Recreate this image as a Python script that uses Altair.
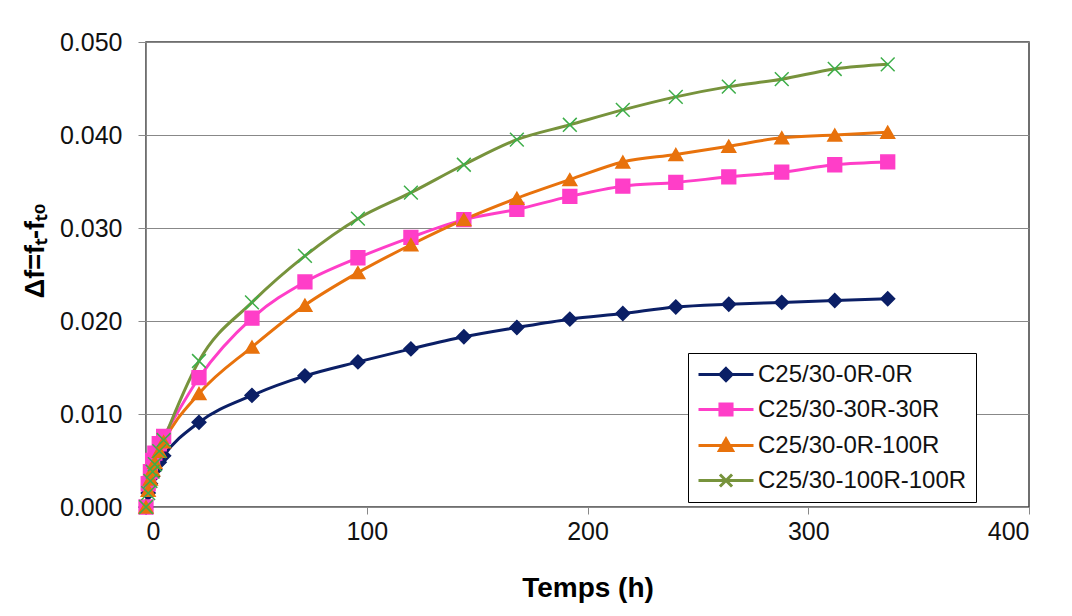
import altair as alt
import pandas as pd

# ---- data ----
times = [0, 1, 2, 3, 4, 6, 8, 24, 48, 72, 96, 120, 144, 168, 192, 216, 240, 264, 288, 312, 336]

series_names = ["C25/30-0R-0R", "C25/30-30R-30R", "C25/30-0R-100R", "C25/30-100R-100R"]

s_0r_0r = [0, 0.0015, 0.0025, 0.0033, 0.0040, 0.0048, 0.0055, 0.0091, 0.0120, 0.0141, 0.0156,
           0.0170, 0.0183, 0.0193, 0.0202, 0.0208, 0.0215, 0.0218, 0.0220, 0.0222, 0.0224]
s_30r_30r = [0, 0.0025, 0.0038, 0.0050, 0.0058, 0.0068, 0.0076, 0.0139, 0.0203, 0.0242, 0.0268,
             0.0290, 0.0309, 0.0320, 0.0334, 0.0345, 0.0349, 0.0355, 0.0360, 0.0368, 0.0371]
s_0r_100r = [0, 0.0018, 0.0030, 0.0040, 0.0048, 0.0060, 0.0070, 0.0122, 0.0172, 0.0217, 0.0252,
             0.0282, 0.0309, 0.0332, 0.0352, 0.0371, 0.0379, 0.0388, 0.0397, 0.0400, 0.0403]
s_100r_100r = [0, 0.0015, 0.0028, 0.0038, 0.0046, 0.0060, 0.0072, 0.0157, 0.0220, 0.0270, 0.0310,
               0.0338, 0.0368, 0.0395, 0.0411, 0.0427, 0.0441, 0.0452, 0.0460, 0.0471, 0.0476]

x_ticks = [0, 100, 200, 300, 400]
y_ticks = [0.0, 0.01, 0.02, 0.03, 0.04, 0.05]

line_colors = ["#0B1F66", "#FF3EC8", "#E8720C", "#77933C"]
marker_colors = ["#0B1F66", "#FF3EC8", "#E8720C", "#3DAE49"]
marker_shapes = ["diamond", "square", "triangle-up", "M-1,-1L1,1M-1,1L1,-1"]
legend_shapes = [
    "M-1,0H4M1.5,-0.55L2.05,0L1.5,0.55L0.95,0Z",
    "M-1,0H4M0.95,-0.5H2.05V0.5H0.95Z",
    "M-1,0H4M1.5,-0.6L2.1,0.45H0.9Z",
    "M-1,0H4M0.95,-0.55L2.05,0.55M0.95,0.55L2.05,-0.55",
]

rows = []
for name, vals in zip(series_names, [s_0r_0r, s_30r_30r, s_0r_100r, s_100r_100r]):
    for t, v in zip(times, vals):
        rows.append({"t": t, "v": v, "s": name})
df = pd.DataFrame(rows)

FONT = "Liberation Sans"

x_enc = alt.X(
    "t:Q",
    scale=alt.Scale(domain=[0, 400], nice=False),
    axis=alt.Axis(
        values=x_ticks, title="Temps (h)", grid=False, format="d",
        labelFontSize=25, labelFont=FONT, labelColor="#111111", labelPadding=5,
        tickSize=7, tickColor="#888888", domainColor="#888888",
        titleFontSize=28, titleFont=FONT, titleFontWeight="bold", titleColor="#000000",
        titlePadding=30,
    ),
)
y_enc = alt.Y(
    "v:Q",
    scale=alt.Scale(domain=[0, 0.05], nice=False),
    axis=alt.Axis(
        values=y_ticks, format=".3f", title="Δf=fₜ-fₜ₀",
        labelFontSize=25, labelFont=FONT, labelColor="#111111", labelPadding=16,
        tickSize=8, tickColor="#888888", domainColor="#888888",
        gridColor="#888888", gridWidth=1.2,
        titleFontSize=27, titleFont=FONT, titleFontWeight="bold", titleColor="#000000",
        titlePadding=10, titleY=208, titleAlign="center",
    ),
)

base = alt.Chart(df)

lines = base.mark_line(strokeWidth=3, interpolate="monotone").encode(
    x=x_enc,
    y=y_enc,
    color=alt.Color("s:N", scale=alt.Scale(domain=series_names, range=line_colors), legend=None),
)

points = base.mark_point(size=190, strokeWidth=1.5, opacity=1).encode(
    x=x_enc,
    y=y_enc,
    fill=alt.Fill("s:N", scale=alt.Scale(domain=series_names, range=marker_colors), legend=None),
    stroke=alt.Stroke("s:N", scale=alt.Scale(domain=series_names, range=marker_colors), legend=None),
    shape=alt.Shape("s:N", scale=alt.Scale(domain=series_names, range=marker_shapes), legend=None),
)

legend_layer = base.transform_filter("false").mark_point().encode(
    x=x_enc,
    y=y_enc,
    fill=alt.Fill("s:N", scale=alt.Scale(domain=series_names, range=line_colors), title=None,
                  legend=alt.Legend(orient="none", legendX=542, legendY=311)),
    stroke=alt.Stroke("s:N", scale=alt.Scale(domain=series_names, range=line_colors), title=None,
                      legend=alt.Legend(orient="none", legendX=542, legendY=311)),
    shape=alt.Shape("s:N", scale=alt.Scale(domain=series_names, range=legend_shapes), title=None,
                    legend=alt.Legend(orient="none", legendX=542, legendY=311)),
)

chart = (
    alt.layer(lines, points, legend_layer)
    .resolve_scale(fill="independent", stroke="independent", shape="independent", color="independent")
    .properties(
        width=883,
        height=465,
        autosize=alt.AutoSizeParams(type="none"),
        padding={"left": 138, "top": 34, "right": 35, "bottom": 100},
        background="white",
    )
    .configure_view(stroke="#404040", strokeWidth=1.5)
    .configure_legend(
        labelFont=FONT, labelFontSize=24, labelColor="#111111",
        symbolSize=484, symbolStrokeWidth=3, symbolOpacity=1,
        labelOffset=36, rowPadding=10, padding=9,
        strokeColor="#000000", fillColor="white", cornerRadius=0,
        labelLimit=400,
    )
)

chart.save("out.html", embed_options={"renderer": "svg", "actions": False})
